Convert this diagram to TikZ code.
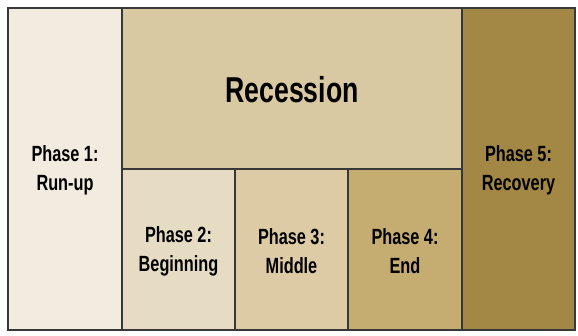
\documentclass[tikz,border=0pt]{standalone}
\usepackage{fontspec}
\setmainfont{Liberation Sans}[FakeStretch=0.74]
\begin{document}
\begin{tikzpicture}[x=1pt,y=-1pt,
  cell/.style={draw=black!78, line width=1.6pt, align=center, font=\bfseries\fontsize{22}{29}\selectfont, text=black!92, inner sep=0pt},
  big/.style={font=\bfseries\fontsize{36}{40}\selectfont}]
\useasboundingbox[fill=white] (0,0) rectangle (578,336);
\definecolor{cA}{HTML}{F1ECDF}
\definecolor{cR}{HTML}{D9C9A3}
\definecolor{cB}{HTML}{E6DCC4}
\definecolor{cC}{HTML}{DCCBA5}
\definecolor{cD}{HTML}{C5AC71}
\definecolor{cE}{HTML}{A38845}
\path[cell, fill=cA] (8,8) rectangle (122,330);
\node[font=\bfseries\fontsize{22}{29}\selectfont, align=center] (p1) at (65,170) {Phase 1:\\Run-up};
\path[cell, fill=cR] (122,8) rectangle (462,169);
\node[big] (rec) at (292,90) {Recession};
\path[cell, fill=cB] (122,169) rectangle (235,330);
\node[font=\bfseries\fontsize{22}{29}\selectfont, align=center] (p2) at (178.5,251) {Phase 2:\\Beginning};
\path[cell, fill=cC] (235,169) rectangle (348,330);
\node[font=\bfseries\fontsize{22}{29}\selectfont, align=center] (p3) at (291.5,251) {Phase 3:\\Middle};
\path[cell, fill=cD] (348,169) rectangle (462,330);
\node[font=\bfseries\fontsize{22}{29}\selectfont, align=center] (p4) at (405,251) {Phase 4:\\End};
\path[cell, fill=cE] (462,8) rectangle (575,330);
\node[font=\bfseries\fontsize{22}{29}\selectfont, align=center] (p5) at (518.5,170) {Phase 5:\\Recovery};
\end{tikzpicture}
\end{document}
